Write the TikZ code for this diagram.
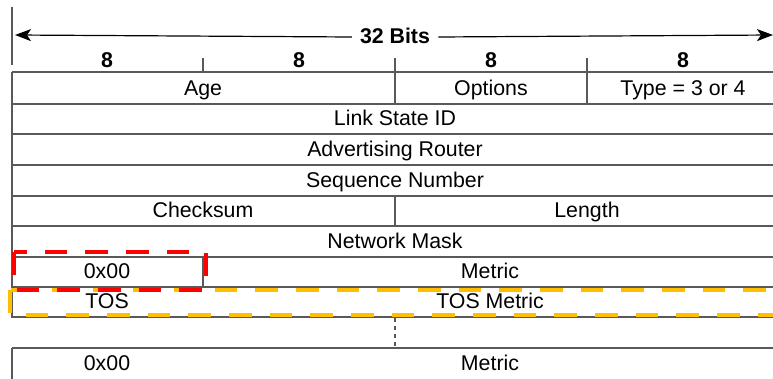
\documentclass[tikz,border=0pt]{standalone}
\usepackage{fontspec}
\setmainfont{Liberation Sans}
\usetikzlibrary{arrows.meta}
\tikzset{
  field/.style={font=\fontsize{16}{18}\selectfont, inner sep=0pt, text height=11.5pt, text depth=1pt},
  bits/.style={font=\fontsize{16}{18}\selectfont\bfseries, inner sep=0pt, text height=11.5pt, text depth=1pt},
  rule/.style={draw=black!65, line width=1.1pt},
  redbox/.style={draw=red, line width=3.4pt, dash pattern=on 17pt off 13.5pt},
  yellowbox/.style={draw=orange!50!yellow, line width=3.4pt, dash pattern=on 17pt off 13.5pt},
}
\begin{document}
\begin{tikzpicture}[x=0.75pt,y=-0.75pt]
      \useasboundingbox (0,0) rectangle (773,378);
      \clip (0,0) rectangle (773,378);
      \draw
        (395,37) node[bits] (total){32 Bits}
        (107,60) node[bits] (b1){8}
        (299,60) node[bits] (b2){8}
        (491,60) node[bits] (b3){8}
        (683,60) node[bits] (b4){8}
        (203,88) node[field] (age){Age}
        (491,88) node[field] (options){Options}
        (683,88) node[field] (type){Type = 3 or 4}
        (395,118) node[field] (lsid){Link State ID}
        (395,149) node[field] (advrtr){Advertising Router}
        (395,180) node[field] (seqnum){Sequence Number}
        (203,210) node[field] (checksum){Checksum}
        (587,210) node[field] (length){Length}
        (395,241) node[field] (mask){Network Mask}
        (107,271) node[field] (zero){0x00}
        (490,271) node[field] (metric){Metric}
        (107,301) node[field] (tos){TOS}
        (490,301) node[field] (tosmetric){TOS Metric}
        (107,363) node[field] (zeron){0x00}
        (490,363) node[field] (metricn){Metric};
      \coordinate (lend) at (15,35);
      \coordinate (rend) at (773,35);
      \begin{scope}[-{Stealth[length=12pt,width=9pt,inset=3pt]}, line width=0.9pt]
        \draw (total.west) ++(-8,0) -- (lend);
        \draw (total.east) ++(8,0) -- (rend);
      \end{scope}
      \begin{scope}[rule]
        \draw (12,7) -- (12,65);
        \draw (12,72) -- (12,318);
        \draw (12,348) -- (12,380);
        \draw (12,72) -- (780,72);
        \draw (12,104) -- (780,104);
        \draw (12,134) -- (780,134);
        \draw (12,165) -- (780,165);
        \draw (12,196) -- (780,196);
        \draw (12,226) -- (780,226);
        \draw (12,257) -- (780,257);
        \draw (12,287) -- (780,287);
        \draw (12,317) -- (780,317);
        \draw (12,348) -- (780,348);
        \draw (203,58) -- (203,72);
        \draw (395,58) -- (395,104);
        \draw (587,58) -- (587,104);
        \draw (395,196) -- (395,226);
        \draw (203,257) -- (203,287);
        \draw[dash pattern=on 3pt off 3pt] (395,318) -- (395,348);
      \end{scope}
      \draw[yellowbox] (10,290) rectangle (790,315);
      \draw[redbox] (14,252) rectangle (206,290);
    \end{tikzpicture}
\end{document}
